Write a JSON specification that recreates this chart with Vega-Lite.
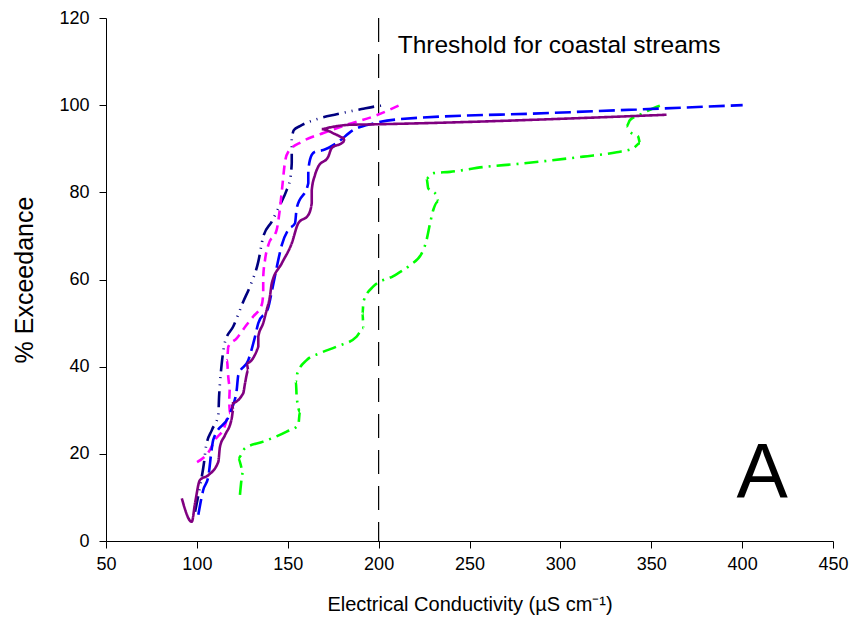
{
  "$schema": "https://vega.github.io/schema/vega-lite/v6.json",
  "width": 727,
  "height": 523,
  "autosize": {"type": "none"},
  "padding": {"left": 106, "top": 18, "right": 20, "bottom": 96},
  "background": "white",
  "config": {
    "view": {"stroke": null},
    "font": "Liberation Sans",
    "axis": {
      "grid": false,
      "domainColor": "black",
      "domainWidth": 1,
      "tickColor": "black",
      "tickSize": 7,
      "labelFlush": false,
      "labelColor": "black",
      "labelFont": "Liberation Sans",
      "labelFontSize": 18,
      "titleFont": "Liberation Sans",
      "titleFontSize": 20,
      "titleFontWeight": "normal",
      "titleColor": "black"
    }
  },
  "datasets": {
    "curves": [
      {"s": "green", "i": 1, "ec": 123.7, "exc": 10.6},
      {"s": "green", "i": 2, "ec": 125.5, "exc": 15.9},
      {"s": "green", "i": 3, "ec": 122.8, "exc": 19.0},
      {"s": "green", "i": 4, "ec": 126.5, "exc": 21.3},
      {"s": "green", "i": 5, "ec": 136.5, "exc": 22.8},
      {"s": "green", "i": 6, "ec": 149.4, "exc": 25.1},
      {"s": "green", "i": 7, "ec": 155.8, "exc": 26.6},
      {"s": "green", "i": 8, "ec": 156.7, "exc": 29.7},
      {"s": "green", "i": 9, "ec": 154.9, "exc": 33.1},
      {"s": "green", "i": 10, "ec": 154.5, "exc": 36.6},
      {"s": "green", "i": 11, "ec": 155.3, "exc": 38.5},
      {"s": "green", "i": 12, "ec": 160.4, "exc": 41.5},
      {"s": "green", "i": 13, "ec": 167.7, "exc": 43.1},
      {"s": "green", "i": 14, "ec": 176.9, "exc": 44.6},
      {"s": "green", "i": 15, "ec": 187.9, "exc": 46.9},
      {"s": "green", "i": 16, "ec": 191.6, "exc": 48.8},
      {"s": "green", "i": 17, "ec": 191.2, "exc": 52.2},
      {"s": "green", "i": 18, "ec": 191.6, "exc": 54.9},
      {"s": "green", "i": 19, "ec": 197.1, "exc": 58.4},
      {"s": "green", "i": 20, "ec": 208.1, "exc": 60.8},
      {"s": "green", "i": 21, "ec": 217.3, "exc": 63.3},
      {"s": "green", "i": 22, "ec": 223.7, "exc": 66.0},
      {"s": "green", "i": 23, "ec": 226.4, "exc": 69.1},
      {"s": "green", "i": 24, "ec": 228.3, "exc": 72.9},
      {"s": "green", "i": 25, "ec": 230.1, "exc": 76.0},
      {"s": "green", "i": 26, "ec": 232.8, "exc": 77.9},
      {"s": "green", "i": 27, "ec": 231.9, "exc": 79.4},
      {"s": "green", "i": 28, "ec": 227.3, "exc": 80.9},
      {"s": "green", "i": 29, "ec": 226.4, "exc": 83.2},
      {"s": "green", "i": 30, "ec": 230.1, "exc": 84.4},
      {"s": "green", "i": 31, "ec": 239.3, "exc": 84.7},
      {"s": "green", "i": 32, "ec": 257.6, "exc": 85.8},
      {"s": "green", "i": 33, "ec": 276.0, "exc": 86.5},
      {"s": "green", "i": 34, "ec": 294.3, "exc": 87.3},
      {"s": "green", "i": 35, "ec": 312.6, "exc": 88.2},
      {"s": "green", "i": 36, "ec": 331.0, "exc": 89.2},
      {"s": "green", "i": 37, "ec": 340.1, "exc": 90.1},
      {"s": "green", "i": 38, "ec": 343.8, "exc": 91.3},
      {"s": "green", "i": 39, "ec": 342.8, "exc": 92.8},
      {"s": "green", "i": 40, "ec": 338.3, "exc": 93.9},
      {"s": "green", "i": 41, "ec": 336.4, "exc": 95.1},
      {"s": "green", "i": 42, "ec": 338.3, "exc": 96.6},
      {"s": "green", "i": 43, "ec": 343.8, "exc": 97.8},
      {"s": "green", "i": 44, "ec": 351.2, "exc": 99.3},
      {"s": "green", "i": 45, "ec": 355.7, "exc": 100.0},

      {"s": "navy", "i": 1, "ec": 99.0, "exc": 6.7},
      {"s": "navy", "i": 2, "ec": 101.7, "exc": 12.5},
      {"s": "navy", "i": 3, "ec": 103.9, "exc": 17.9},
      {"s": "navy", "i": 4, "ec": 105.0, "exc": 21.6},
      {"s": "navy", "i": 5, "ec": 108.3, "exc": 25.5},
      {"s": "navy", "i": 6, "ec": 111.8, "exc": 28.9},
      {"s": "navy", "i": 7, "ec": 112.2, "exc": 33.0},
      {"s": "navy", "i": 8, "ec": 112.7, "exc": 36.2},
      {"s": "navy", "i": 9, "ec": 113.6, "exc": 40.4},
      {"s": "navy", "i": 10, "ec": 115.5, "exc": 45.7},
      {"s": "navy", "i": 11, "ec": 120.0, "exc": 49.2},
      {"s": "navy", "i": 12, "ec": 125.5, "exc": 54.9},
      {"s": "navy", "i": 13, "ec": 129.2, "exc": 58.4},
      {"s": "navy", "i": 14, "ec": 133.8, "exc": 64.1},
      {"s": "navy", "i": 15, "ec": 136.5, "exc": 69.8},
      {"s": "navy", "i": 16, "ec": 141.2, "exc": 73.3},
      {"s": "navy", "i": 17, "ec": 145.7, "exc": 77.1},
      {"s": "navy", "i": 18, "ec": 149.4, "exc": 80.5},
      {"s": "navy", "i": 19, "ec": 151.2, "exc": 82.8},
      {"s": "navy", "i": 20, "ec": 152.2, "exc": 86.7},
      {"s": "navy", "i": 21, "ec": 152.2, "exc": 92.0},
      {"s": "navy", "i": 22, "ec": 153.4, "exc": 94.3},
      {"s": "navy", "i": 23, "ec": 156.7, "exc": 95.2},
      {"s": "navy", "i": 24, "ec": 167.7, "exc": 97.0},
      {"s": "navy", "i": 25, "ec": 176.9, "exc": 97.9},
      {"s": "navy", "i": 26, "ec": 190.6, "exc": 99.1},
      {"s": "navy", "i": 27, "ec": 199.8, "exc": 99.8},
      {"s": "navy", "i": 28, "ec": 204.6, "exc": 100.0},

      {"s": "magenta", "i": 1, "ec": 100.1, "exc": 18.1},
      {"s": "magenta", "i": 2, "ec": 107.2, "exc": 20.9},
      {"s": "magenta", "i": 3, "ec": 110.0, "exc": 23.2},
      {"s": "magenta", "i": 4, "ec": 114.5, "exc": 25.5},
      {"s": "magenta", "i": 5, "ec": 118.2, "exc": 29.3},
      {"s": "magenta", "i": 6, "ec": 117.7, "exc": 32.0},
      {"s": "magenta", "i": 7, "ec": 118.2, "exc": 35.4},
      {"s": "magenta", "i": 8, "ec": 117.1, "exc": 38.5},
      {"s": "magenta", "i": 9, "ec": 116.6, "exc": 41.5},
      {"s": "magenta", "i": 10, "ec": 117.3, "exc": 44.6},
      {"s": "magenta", "i": 11, "ec": 121.9, "exc": 46.5},
      {"s": "magenta", "i": 12, "ec": 127.4, "exc": 49.6},
      {"s": "magenta", "i": 13, "ec": 131.0, "exc": 51.5},
      {"s": "magenta", "i": 14, "ec": 135.7, "exc": 54.2},
      {"s": "magenta", "i": 15, "ec": 136.5, "exc": 56.8},
      {"s": "magenta", "i": 16, "ec": 136.5, "exc": 60.6},
      {"s": "magenta", "i": 17, "ec": 137.5, "exc": 64.5},
      {"s": "magenta", "i": 18, "ec": 139.3, "exc": 67.9},
      {"s": "magenta", "i": 19, "ec": 143.9, "exc": 71.4},
      {"s": "magenta", "i": 20, "ec": 145.7, "exc": 76.3},
      {"s": "magenta", "i": 21, "ec": 146.8, "exc": 80.5},
      {"s": "magenta", "i": 22, "ec": 148.5, "exc": 87.0},
      {"s": "magenta", "i": 23, "ec": 150.3, "exc": 89.3},
      {"s": "magenta", "i": 24, "ec": 157.7, "exc": 91.6},
      {"s": "magenta", "i": 25, "ec": 169.6, "exc": 93.6},
      {"s": "magenta", "i": 26, "ec": 182.4, "exc": 95.5},
      {"s": "magenta", "i": 27, "ec": 197.1, "exc": 97.4},
      {"s": "magenta", "i": 28, "ec": 213.6, "exc": 100.4},

      {"s": "blue", "i": 1, "ec": 100.8, "exc": 6.0},
      {"s": "blue", "i": 2, "ec": 103.5, "exc": 11.7},
      {"s": "blue", "i": 3, "ec": 106.3, "exc": 14.8},
      {"s": "blue", "i": 4, "ec": 108.1, "exc": 20.9},
      {"s": "blue", "i": 5, "ec": 109.0, "exc": 23.2},
      {"s": "blue", "i": 6, "ec": 118.2, "exc": 29.3},
      {"s": "blue", "i": 7, "ec": 121.9, "exc": 34.6},
      {"s": "blue", "i": 8, "ec": 122.8, "exc": 38.1},
      {"s": "blue", "i": 9, "ec": 128.3, "exc": 41.5},
      {"s": "blue", "i": 10, "ec": 132.0, "exc": 46.9},
      {"s": "blue", "i": 11, "ec": 133.8, "exc": 50.0},
      {"s": "blue", "i": 12, "ec": 139.3, "exc": 53.6},
      {"s": "blue", "i": 13, "ec": 141.2, "exc": 57.2},
      {"s": "blue", "i": 14, "ec": 144.8, "exc": 64.5},
      {"s": "blue", "i": 15, "ec": 146.7, "exc": 67.9},
      {"s": "blue", "i": 16, "ec": 150.3, "exc": 71.4},
      {"s": "blue", "i": 17, "ec": 154.0, "exc": 72.9},
      {"s": "blue", "i": 18, "ec": 154.9, "exc": 76.3},
      {"s": "blue", "i": 19, "ec": 161.3, "exc": 82.1},
      {"s": "blue", "i": 20, "ec": 161.3, "exc": 85.1},
      {"s": "blue", "i": 21, "ec": 163.2, "exc": 88.6},
      {"s": "blue", "i": 22, "ec": 165.0, "exc": 89.3},
      {"s": "blue", "i": 23, "ec": 169.6, "exc": 89.7},
      {"s": "blue", "i": 24, "ec": 176.9, "exc": 91.3},
      {"s": "blue", "i": 25, "ec": 186.1, "exc": 94.3},
      {"s": "blue", "i": 26, "ec": 197.1, "exc": 95.8},
      {"s": "blue", "i": 27, "ec": 211.8, "exc": 96.8},
      {"s": "blue", "i": 28, "ec": 294.3, "exc": 98.2},
      {"s": "blue", "i": 29, "ec": 400.3, "exc": 100.0},

      {"s": "purple", "i": 1, "ec": 91.7, "exc": 9.8},
      {"s": "purple", "i": 2, "ec": 97.2, "exc": 4.4},
      {"s": "purple", "i": 3, "ec": 99.0, "exc": 8.7},
      {"s": "purple", "i": 4, "ec": 101.7, "exc": 14.0},
      {"s": "purple", "i": 5, "ec": 106.3, "exc": 15.1},
      {"s": "purple", "i": 6, "ec": 111.8, "exc": 18.2},
      {"s": "purple", "i": 7, "ec": 112.7, "exc": 21.6},
      {"s": "purple", "i": 8, "ec": 115.5, "exc": 24.3},
      {"s": "purple", "i": 9, "ec": 119.2, "exc": 28.2},
      {"s": "purple", "i": 10, "ec": 120.0, "exc": 30.1},
      {"s": "purple", "i": 11, "ec": 119.2, "exc": 31.6},
      {"s": "purple", "i": 12, "ec": 125.5, "exc": 33.9},
      {"s": "purple", "i": 13, "ec": 126.5, "exc": 36.2},
      {"s": "purple", "i": 14, "ec": 128.3, "exc": 39.2},
      {"s": "purple", "i": 15, "ec": 127.4, "exc": 40.8},
      {"s": "purple", "i": 16, "ec": 133.8, "exc": 44.6},
      {"s": "purple", "i": 17, "ec": 133.8, "exc": 46.9},
      {"s": "purple", "i": 18, "ec": 136.5, "exc": 50.0},
      {"s": "purple", "i": 19, "ec": 138.4, "exc": 53.0},
      {"s": "purple", "i": 20, "ec": 140.2, "exc": 56.1},
      {"s": "purple", "i": 21, "ec": 141.2, "exc": 59.1},
      {"s": "purple", "i": 22, "ec": 146.7, "exc": 63.7},
      {"s": "purple", "i": 23, "ec": 152.2, "exc": 68.3},
      {"s": "purple", "i": 24, "ec": 155.8, "exc": 72.9},
      {"s": "purple", "i": 25, "ec": 161.3, "exc": 74.8},
      {"s": "purple", "i": 26, "ec": 163.2, "exc": 77.5},
      {"s": "purple", "i": 27, "ec": 163.2, "exc": 80.5},
      {"s": "purple", "i": 28, "ec": 165.0, "exc": 84.0},
      {"s": "purple", "i": 29, "ec": 166.8, "exc": 85.9},
      {"s": "purple", "i": 30, "ec": 172.3, "exc": 88.2},
      {"s": "purple", "i": 31, "ec": 174.1, "exc": 90.1},
      {"s": "purple", "i": 32, "ec": 180.6, "exc": 91.6},
      {"s": "purple", "i": 33, "ec": 181.5, "exc": 92.4},
      {"s": "purple", "i": 34, "ec": 176.9, "exc": 93.2},
      {"s": "purple", "i": 35, "ec": 168.7, "exc": 94.5},
      {"s": "purple", "i": 36, "ec": 173.2, "exc": 94.9},
      {"s": "purple", "i": 37, "ec": 184.2, "exc": 95.5},
      {"s": "purple", "i": 38, "ec": 197.1, "exc": 95.6},
      {"s": "purple", "i": 39, "ec": 358.4, "exc": 97.8}
    ],
    "threshold": [
      {"ec": 200}
    ],
    "notes": [
      {"label": "Threshold for coastal streams", "ec": 210.5, "exc": 113.5}
    ],
    "letter": [
      {"label": "A", "ec": 411, "exc": 9.9}
    ]
  },
  "layer": [
    {
      "data": {"name": "threshold"},
      "mark": {"type": "rule", "color": "black", "strokeWidth": 1.2, "strokeDash": [24, 12]},
      "encoding": {"x": {"field": "ec", "type": "quantitative"}}
    },
    {
      "data": {"name": "curves"},
      "mark": {"type": "line", "strokeWidth": 2.6, "interpolate": "monotone"},
      "encoding": {
        "x": {
          "field": "ec", "type": "quantitative",
          "scale": {"domain": [50, 450], "nice": false, "zero": false},
          "axis": {"values": [50, 100, 150, 200, 250, 300, 350, 400, 450], "title": "Electrical Conductivity (µS cm⁻¹)", "labelPadding": 7, "titlePadding": 21}
        },
        "y": {
          "field": "exc", "type": "quantitative",
          "scale": {"domain": [0, 120], "nice": false, "zero": false},
          "axis": {"values": [0, 20, 40, 60, 80, 100, 120], "title": "% Exceedance", "titleFontSize": 25, "labelPadding": 10, "titlePadding": 21}
        },
        "order": {"field": "i", "type": "quantitative"},
        "color": {
          "field": "s", "type": "nominal", "legend": null,
          "scale": {"domain": ["green", "navy", "magenta", "blue", "purple"], "range": ["#00FF00", "#000080", "#FF00FF", "#0000FF", "#800080"]}
        },
        "strokeDash": {
          "field": "s", "type": "nominal", "legend": null,
          "scale": {"domain": ["green", "navy", "magenta", "blue", "purple"], "range": [[14, 6, 2, 6], [16, 6, 1, 6, 1, 6], [9, 6], [16, 6], [1, 0]]}
        }
      }
    },
    {
      "data": {"name": "notes"},
      "mark": {"type": "text", "align": "left", "baseline": "middle", "fontSize": 24.5, "font": "Liberation Sans", "color": "black"},
      "encoding": {
        "x": {"field": "ec", "type": "quantitative"},
        "y": {"field": "exc", "type": "quantitative"},
        "text": {"field": "label"}
      }
    },
    {
      "data": {"name": "letter"},
      "mark": {"type": "text", "align": "center", "baseline": "alphabetic", "fontSize": 77, "font": "Liberation Sans", "color": "black"},
      "encoding": {
        "x": {"field": "ec", "type": "quantitative"},
        "y": {"field": "exc", "type": "quantitative"},
        "text": {"field": "label"}
      }
    }
  ]
}
